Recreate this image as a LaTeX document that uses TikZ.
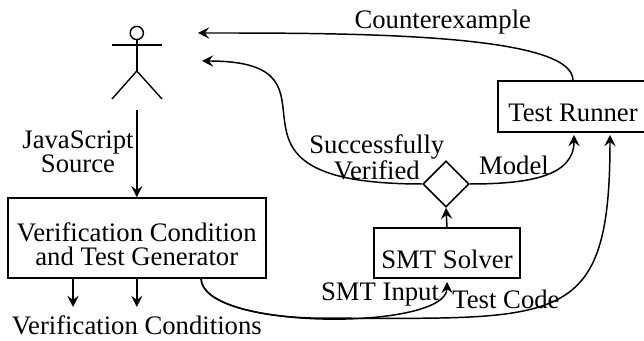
\documentclass[tikz,border=0pt]{standalone}
\usepackage{fontspec}
\setmainfont{Liberation Serif}
\usetikzlibrary{shapes.geometric,arrows.meta}

\newcommand{\lowtext}{\rule{0pt}{22pt}}

\tikzset{
  label/.style={align=center,inner sep=0pt,font=\fontsize{19}{17}\selectfont},
  box/.style={draw,rectangle,line width=1.1pt,label},
  choice/.style={draw,diamond,line width=1.1pt,minimum width=1.15cm,minimum height=1.15cm,inner sep=0pt},
  person/.style={line width=1pt},
  flow/.style={-{Stealth[length=8pt,width=8pt,inset=3pt]},line width=1.05pt},
}

\begin{document}
\begin{tikzpicture}
    \useasboundingbox (0,0) rectangle (16.1,8.525);

    % the person
    \node[draw,circle,person,minimum size=.33cm,inner sep=0pt] (head) at (3.42,7.7) {};
    \coordinate (hip) at (3.42,6.75);
    \draw[person] (head) -- (hip);
    \draw[person] (2.8,7.4) -- (4.05,7.4);
    \draw[person] (2.8,6.05) -- (hip) -- (4.05,6.05);

    \node[box,minimum width=6.45cm,minimum height=2cm] (gen) at (3.42,2.575) {\lowtext Verification Condition\\and Test Generator};
    \node[box,minimum width=3.65cm,minimum height=1.25cm] (solver) at (11.175,2.2) {\lowtext SMT Solver};
    \node[box,minimum width=3.75cm,minimum height=1.275cm] (runner) at (14.325,5.86) {\lowtext Test Runner};
    \node[choice] (check) at (11.15,3.925) {};

    % free ends
    \coordinate (personout) at (3.42,5.775);
    \coordinate (personin1) at (4.95,7.7);
    \coordinate (personin2) at (5.05,7.0);
    \coordinate (genout) at (5.025,1.575);
    \coordinate (low) at (8.1,.57);
    \coordinate (solverin) at (11.175,1.475);
    \coordinate (runnerin1) at (14.35,5.15);
    \coordinate (runnerin2) at (15.25,5.15);
    \coordinate (cond1) at (1.825,.85);
    \coordinate (cond2) at (3.42,.85);

    \draw[flow] (personout) -- (gen.north);
    \draw[flow] (gen.south -| cond1) -- (cond1);
    \draw[flow] (gen.south) -- (cond2);
    \draw[flow] (solver.north) -- (check.south);

    \draw[flow] (runner.north) .. controls (14.325,7.7) and (8.75,7.7) .. (personin1);
    \draw[flow] (check.west) .. controls (4.625,3.925) and (9.1,7) .. (personin2);
    \draw[flow] (check.east) .. controls (13.25,3.925) and (14.35,4.125) .. (runnerin1);
    \draw[flow] (genout) .. controls (5.025,.25) and (11.175,.25) .. (solverin);
    \draw[flow] (genout) .. controls (5.025,.91) and (6.56,.57) .. (low) .. controls (14,.57) and (15.25,.275) .. (runnerin2);

    \node[label] (counter) at (11.07,7.98) {Counterexample};
    \node[label] (source) at (1.95,4.72) {JavaScript\\Source};
    \node[label] (verified) at (9.42,4.6) {Successfully\\Verified};
    \node[label] (model) at (12.85,4.4) {Model};
    \node[label] (conds) at (3.42,.38) {Verification Conditions};
    \node[label] (smtinput) at (9.5,1.15) {SMT Input};
    \node[label] (testcode) at (12.65,1.05) {Test Code};
\end{tikzpicture}
\end{document}
